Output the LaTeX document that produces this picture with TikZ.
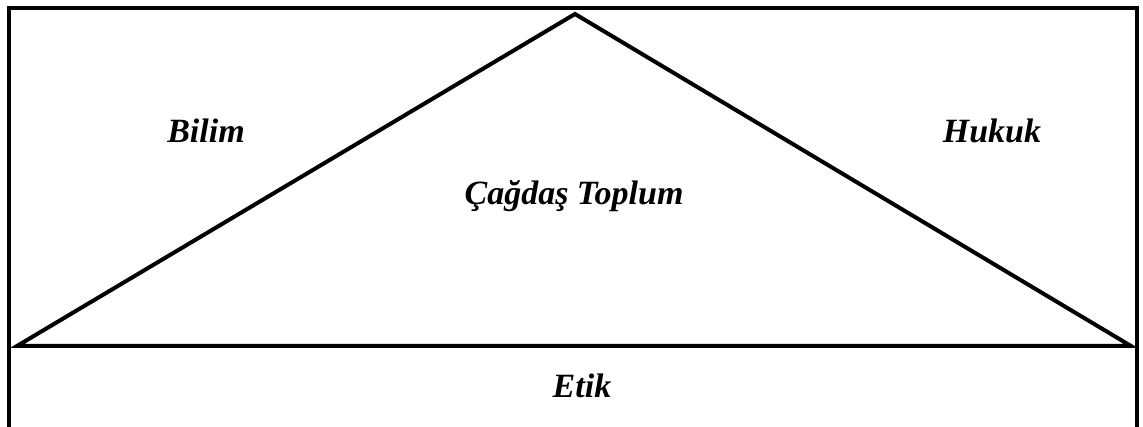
\documentclass[tikz,border=0pt]{standalone}
\usepackage{fontspec}
\setmainfont{Liberation Serif}
\begin{document}
\begin{tikzpicture}[x=1pt,y=-1pt,
  frame/.style={line width=4pt},
  word/.style={font=\fontsize{34}{36}\selectfont\bfseries\itshape, anchor=base, inner sep=0pt}]
\useasboundingbox (0,0) rectangle (1143,427);
% corner points of the outer frame and of the triangle
\coordinate (bl) at (9,427);
\coordinate (tl) at (9,8);
\coordinate (tr) at (1137,8);
\coordinate (br) at (1137,427);
\coordinate (apex) at (575,14);
\coordinate (left) at (17,346);
\coordinate (right) at (1131,346);
% open-bottomed frame
\draw[frame, line join=miter] (bl) -- (tl) -- (tr) -- (br);
% triangle
\draw[frame, line join=miter] (left) -- (apex) -- (right) -- cycle;
% labels
\node[word] (bilim) at (206,143) {Bilim};
\node[word] (hukuk) at (992,143) {Hukuk};
\node[word] (toplum) at (574,205) {Çağdaş Toplum};
\node[word] (etik) at (582,397) {Etik};
\end{tikzpicture}
\end{document}
